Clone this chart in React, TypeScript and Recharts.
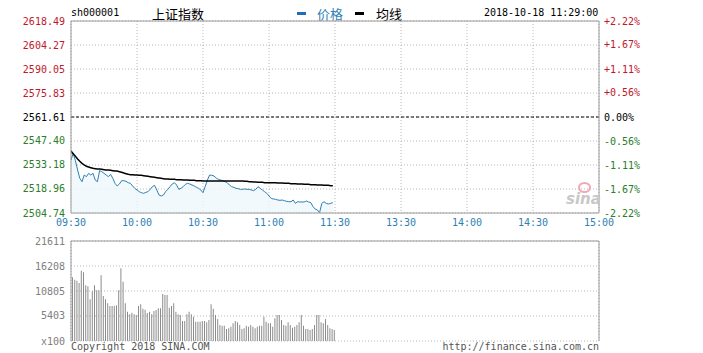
import React from 'react';
import {
  ComposedChart,
  Area,
  Line,
  Bar,
  XAxis,
  YAxis,
  CartesianGrid,
  ReferenceLine,
} from 'recharts';

// ─── Data ────────────────────────────────────────────────────────────────────

const price: number[] = [
  2536.14, 2540.09, 2535.75, 2530.22, 2525.28, 2523.30, 2527.25, 2526.27, 2528.24, 2527.25,
  2528.24, 2524.29, 2523.30, 2529.82, 2529.23, 2528.24, 2527.25, 2526.27, 2527.65, 2525.28,
  2522.32, 2520.74, 2521.92, 2523.90, 2523.90, 2523.50, 2522.71, 2522.32, 2520.74, 2519.35,
  2518.37, 2517.38, 2516.79, 2516.39, 2516.98, 2517.38, 2518.76, 2520.34, 2521.13, 2518.37,
  2515.40, 2514.81, 2515.40, 2517.38, 2518.76, 2520.34, 2521.92, 2522.71, 2521.33, 2518.76,
  2519.35, 2520.34, 2521.72, 2522.32, 2521.92, 2521.33, 2520.74, 2519.95, 2519.35, 2518.37,
  2516.79, 2520.34, 2524.29, 2527.25, 2527.06, 2526.66, 2525.48, 2524.69, 2524.29, 2523.90,
  2523.30, 2522.71, 2521.33, 2520.34, 2519.95, 2519.35, 2519.16, 2518.76, 2518.76, 2518.96,
  2518.76, 2518.76, 2518.37, 2517.97, 2518.76, 2520.34, 2519.35, 2518.37, 2517.38, 2516.39,
  2514.81, 2513.43, 2513.03, 2512.84, 2512.44, 2512.24, 2512.44, 2512.05, 2511.65, 2511.45,
  2511.45, 2512.44, 2510.47, 2511.45, 2511.26, 2511.26, 2511.26, 2511.85, 2511.26, 2510.86,
  2508.49, 2507.11, 2506.52, 2504.94, 2510.47, 2511.45, 2510.47, 2510.07, 2510.47, 2510.86,
];

const avgLine: number[] = [
  2541.48, 2539.90, 2538.32, 2536.74, 2535.35, 2534.17, 2533.18, 2532.39, 2531.99, 2531.60,
  2531.20, 2531.01, 2530.81, 2530.81, 2530.61, 2530.41, 2530.22, 2530.22, 2530.02, 2529.82,
  2529.62, 2529.62, 2529.23, 2528.83, 2528.44, 2528.04, 2527.65, 2527.45, 2527.45, 2527.25,
  2527.25, 2527.06, 2527.06, 2526.86, 2526.66, 2526.46, 2526.27, 2526.07, 2525.87, 2525.67,
  2525.48, 2525.28, 2525.08, 2524.88, 2524.88, 2524.69, 2524.69, 2524.69, 2524.49, 2524.49,
  2524.49, 2524.29, 2524.29, 2524.29, 2524.09, 2524.09, 2524.09, 2523.90, 2523.90, 2523.90,
  2523.70, 2523.70, 2523.70, 2523.70, 2523.70, 2523.70, 2523.70, 2523.70, 2523.70, 2523.70,
  2523.70, 2523.70, 2523.70, 2523.70, 2523.70, 2523.70, 2523.70, 2523.70, 2523.70, 2523.50,
  2523.50, 2523.30, 2523.30, 2523.11, 2523.11, 2522.91, 2522.91, 2522.91, 2522.71, 2522.71,
  2522.71, 2522.71, 2522.71, 2522.71, 2522.51, 2522.51, 2522.51, 2522.32, 2522.32, 2522.32,
  2522.12, 2522.12, 2522.12, 2521.92, 2521.92, 2521.92, 2521.72, 2521.72, 2521.72, 2521.53,
  2521.53, 2521.53, 2521.33, 2521.33, 2521.33, 2521.13, 2521.13, 2521.13, 2520.93, 2520.93,
];

// volume in units of 100 shares
const volume: number[] = [
  13760, 13250, 13040, 12530, 15200, 14850, 12030, 11810, 9010, 10730,
  12030, 10950, 10950, 14190, 9730, 9010, 8140, 7570, 7570, 7570,
  7710, 10950, 15710, 12820, 8140, 6340, 5760, 6120, 5760, 5620,
  7570, 7920, 6990, 6770, 6050, 6340, 5760, 6480, 6700, 7060,
  7060, 10160, 9940, 9940, 7200, 7570, 8140, 6340, 5760, 5620,
  4320, 4320, 5760, 6340, 5760, 5260, 4180, 4180, 4180, 4320,
  4320, 4030, 4540, 7920, 6990, 5620, 4760, 3460, 3310, 3310,
  2590, 2740, 3100, 3820, 4320, 4030, 3460, 2590, 2740, 3310,
  3100, 3460, 3100, 2740, 3100, 3310, 3310, 5260, 4180, 3820,
  3820, 3100, 4900, 5620, 5620, 4540, 3460, 3310, 4030, 3460,
  2880, 3100, 3460, 4030, 5620, 3310, 2590, 2590, 2380, 2590,
  3460, 5620, 5620, 4030, 3820, 4760, 3460, 2740, 2590, 2380,
];

const priceTicks: number[] = [2618.49, 2604.27, 2590.05, 2575.83, 2561.61, 2547.40, 2533.18, 2518.96, 2504.74];
const pctTicks: number[] = [2.22, 1.67, 1.11, 0.56, 0, -0.56, -1.11, -1.67, -2.22];
const volTicks: number[] = [0, 5403, 10805, 16208, 21611];
const timeTicks: number[] = [0, 30, 60, 90, 120, 150, 180, 210, 240];
const timeLabels: string[] = ['09:30', '10:00', '10:30', '11:00', '11:30', '13:30', '14:00', '14:30', '15:00'];

const prevClose = 2561.61;

// ─── Styles ──────────────────────────────────────────────────────────────────

const MONO = "'DejaVu Sans Mono', 'Liberation Mono', monospace";
const CJK = "'Noto Sans CJK SC', sans-serif";
const RED = '#c0182a';
const GREEN = '#2a7d2a';
const BLUE = '#2f7fb3';
const BORDER = '#9a9a9a';
const GRID = '#b8b8b8';

const priceData = price.map((p, i) => ({ m: i, price: p, avg: avgLine[i] }));
const volData = volume.map((v, i) => ({ m: i + 0.5, vol: v }));

// ─── Ticks ───────────────────────────────────────────────────────────────────

const colorFor = (d: number) => (d > 0.001 ? RED : d < -0.001 ? GREEN : '#000');

const PriceTick = (props: any) => {
  const { x, y, payload } = props;
  return (
    <text x={x} y={y} dy="0.35em" textAnchor="end" fontFamily={MONO} fontSize={10}
      fill={colorFor(payload.value - prevClose)}>
      {payload.value.toFixed(2)}
    </text>
  );
};

const PctTick = (props: any) => {
  const { x, y, payload } = props;
  const v: number = payload.value;
  const txt = (v > 0 ? '+' : '') + v.toFixed(2) + '%';
  return (
    <text x={x} y={y} dy="0.35em" textAnchor="start" fontFamily={MONO} fontSize={10} fill={colorFor(v)}>
      {txt}
    </text>
  );
};

const TimeTick = (props: any) => {
  const { x, y, payload } = props;
  const idx = timeTicks.indexOf(payload.value);
  return (
    <text x={x} y={y} dy="0.71em" textAnchor="middle" fontFamily={MONO} fontSize={10} fill={BLUE}>
      {timeLabels[idx]}
    </text>
  );
};

const VolTick = (props: any) => {
  const { x, y, payload } = props;
  return (
    <text x={x} y={y} dy="0.35em" textAnchor="end" fontFamily={MONO} fontSize={10} fill="#808080">
      {payload.value === 0 ? 'x100' : String(payload.value)}
    </text>
  );
};

// ─── App ─────────────────────────────────────────────────────────────────────

const App: React.FC = () => {
  return (
    <div style={{ position: 'absolute', left: 0, top: 0, width: 703, height: 353, background: '#fff', overflow: 'hidden' }}>
      {/* header */}
      <div style={{ position: 'absolute', left: 71, top: 7, fontFamily: MONO, fontSize: 10, color: '#000' }}>sh000001</div>
      <div style={{ position: 'absolute', left: 152, top: 4, fontFamily: CJK, fontSize: 13, color: '#000' }}>上证指数</div>
      <div style={{ position: 'absolute', left: 297, top: 12, width: 9, height: 3, background: '#1f6fb5' }} />
      <div style={{ position: 'absolute', left: 317, top: 4, fontFamily: CJK, fontSize: 13, color: BLUE }}>价格</div>
      <div style={{ position: 'absolute', left: 355, top: 12, width: 9, height: 3, background: '#000' }} />
      <div style={{ position: 'absolute', left: 376, top: 4, fontFamily: CJK, fontSize: 13, color: '#000' }}>均线</div>
      <div style={{ position: 'absolute', left: 484, top: 7, fontFamily: MONO, fontSize: 10, color: '#000' }}>2018-10-18 11:29:00</div>

      {/* price panel */}
      <div style={{ position: 'absolute', left: 0, top: 0 }}>
        <ComposedChart width={703} height={240} data={priceData} margin={{ top: 21, right: 0, bottom: 0, left: 0 }}>
          <CartesianGrid stroke={GRID} strokeDasharray="1 2" />
          <XAxis
            type="number"
            dataKey="m"
            domain={[0, 240]}
            ticks={timeTicks}
            interval={0}
            allowDataOverflow
            height={27}
            tickSize={0}
            tickMargin={6}
            tickLine={false}
            axisLine={{ stroke: BORDER }}
            tick={<TimeTick />}
          />
          <YAxis
            type="number"
            domain={[2504.74, 2618.49]}
            ticks={priceTicks}
            interval={0}
            allowDataOverflow
            width={71}
            tickSize={0}
            tickMargin={6}
            tickLine={false}
            axisLine={{ stroke: BORDER }}
            tick={<PriceTick />}
          />
          <YAxis
            yAxisId="pct"
            orientation="right"
            type="number"
            domain={[-2.22, 2.22]}
            ticks={pctTicks}
            interval={0}
            allowDataOverflow
            width={104}
            tickSize={0}
            tickMargin={5}
            tickLine={false}
            axisLine={{ stroke: BORDER }}
            tick={<PctTick />}
          />
          <ReferenceLine y={2618.49} stroke={BORDER} />
          <ReferenceLine y={prevClose} stroke="#000" strokeDasharray="3 2" />
          <Area
            type="linear"
            dataKey="price"
            stroke={BLUE}
            strokeWidth={1}
            fill="#eef7fc"
            fillOpacity={0.8}
            isAnimationActive={false}
            dot={false}
            activeDot={false}
          />
          <Line
            type="linear"
            dataKey="avg"
            stroke="#000"
            strokeWidth={1.5}
            dot={false}
            activeDot={false}
            isAnimationActive={false}
          />
        </ComposedChart>
      </div>

      {/* watermark */}
      <div style={{ position: 'absolute', left: 578, top: 182, width: 9, height: 7, borderRadius: '50%', border: '2px solid #f2a8b4' }} />
      <div style={{ position: 'absolute', left: 566, top: 190, fontFamily: "'DejaVu Sans', sans-serif", fontStyle: 'italic', fontWeight: 'bold', fontSize: 15, color: '#c8c8c8' }}>sina</div>

      {/* volume panel */}
      <div style={{ position: 'absolute', left: 0, top: 230 }}>
        <ComposedChart width={703} height={123} data={volData} margin={{ top: 11, right: 104, bottom: 12, left: 0 }}>
          <CartesianGrid stroke={GRID} strokeDasharray="1 2" />
          <XAxis
            type="number"
            dataKey="m"
            domain={[0, 240]}
            ticks={timeTicks}
            interval={0}
            allowDataOverflow
            height={0}
            tick={false}
            tickLine={false}
            axisLine={{ stroke: BORDER }}
          />
          <YAxis
            type="number"
            domain={[0, 21611]}
            ticks={volTicks}
            interval={0}
            allowDataOverflow
            width={71}
            tickSize={0}
            tickMargin={6}
            tickLine={false}
            axisLine={{ stroke: BORDER }}
            tick={<VolTick />}
          />
          <ReferenceLine y={21611} stroke={BORDER} />
          <ReferenceLine x={240} stroke={BORDER} />
          <Bar dataKey="vol" fill="#8c8c8c" barSize={1} isAnimationActive={false} />
        </ComposedChart>
      </div>

      {/* footer */}
      <div style={{ position: 'absolute', left: 71, top: 341, fontFamily: MONO, fontSize: 10, color: '#555' }}>Copyright 2018 SINA.COM</div>
      <div style={{ position: 'absolute', right: 104, top: 341, fontFamily: MONO, fontSize: 10, color: '#555' }}>http://finance.sina.com.cn</div>
    </div>
  );
};

export default App;
